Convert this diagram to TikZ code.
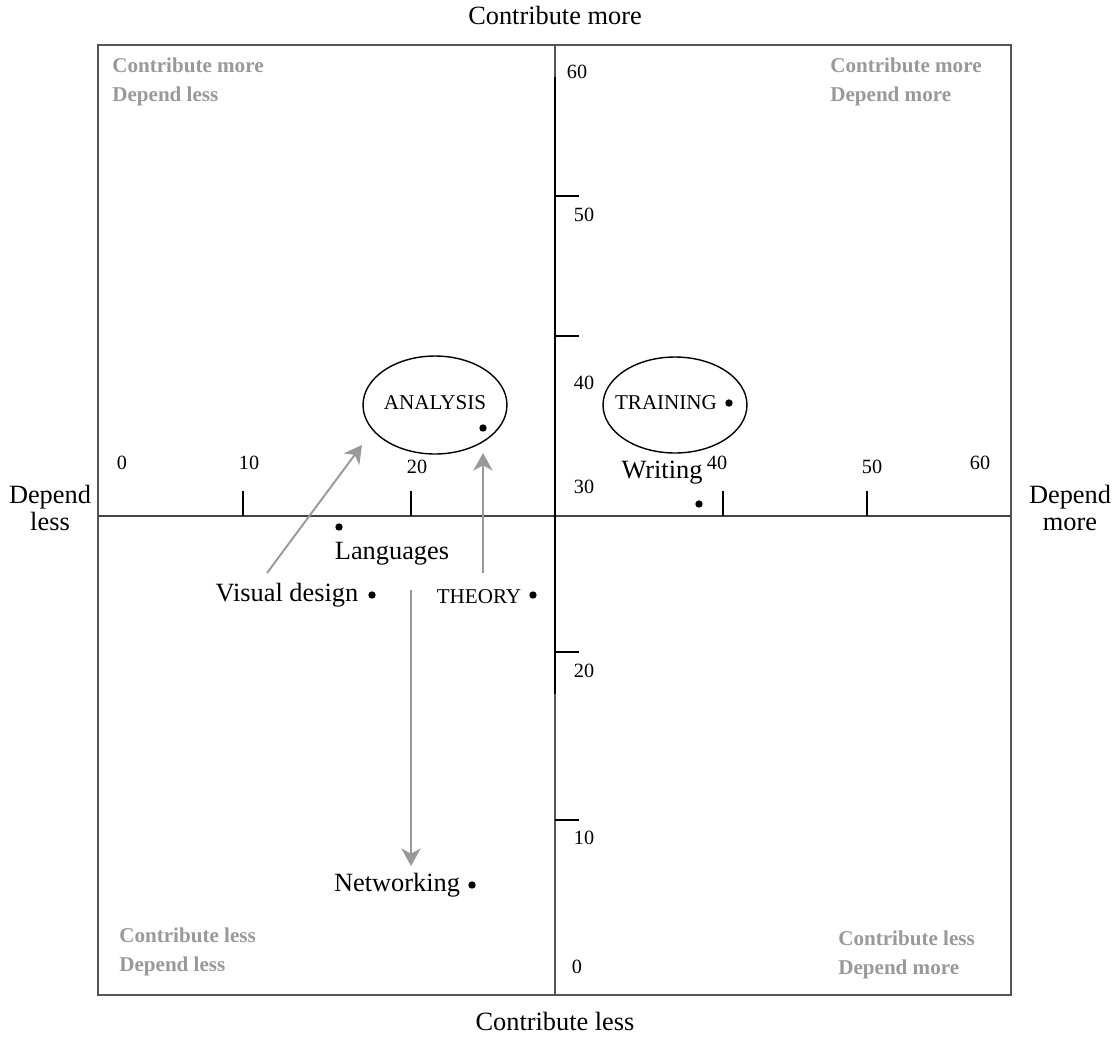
\documentclass[tikz,border=0pt]{standalone}
\usepackage{fontspec}
\setmainfont{Liberation Serif}
\usetikzlibrary{calc}
\usetikzlibrary{positioning}
\usetikzlibrary{shapes.geometric}
\usetikzlibrary{arrows.meta}
\definecolor{frameGray}{HTML}{555555}
\definecolor{axisGray}{HTML}{444444}
\definecolor{softGray}{HTML}{999999}
\tikzstyle{dotnode} = [circle, fill=black, inner sep=0pt, minimum size=4.2pt]
\tikzstyle{itemlbl} = [font=\fontsize{15}{17}\selectfont, inner sep=0pt]
\tikzstyle{caplbl} = [font=\fontsize{12}{14}\selectfont, inner sep=0pt]
\tikzstyle{numlbl} = [font=\fontsize{11.5}{13}\selectfont, inner sep=0pt]
\tikzstyle{quadlbl} = [font=\fontsize{12}{16.4}\selectfont\bfseries, text=softGray, align=left, inner sep=0pt, anchor=west]
\tikzstyle{outerlbl} = [font=\fontsize{15}{15.5}\selectfont, align=center, inner sep=0pt]
\tikzstyle{groupnode} = [draw, ellipse, line width=0.8pt, inner sep=0pt]
\tikzstyle{movearrow} = [draw=softGray, line width=1.1pt, -{Stealth[length=10pt, width=11pt, inset=3pt]}]
\tikzstyle{tickline} = [line width=1.2pt]

\begin{document}
\begin{tikzpicture}[x=0.02cm, y=-0.02cm]
    \useasboundingbox (0,0) rectangle (1120,1036);
    % frame and axes
    \draw[frameGray, line width=1pt] (98,45) rectangle (1011,995);
    \coordinate (h_left) at (98,516);
    \coordinate (h_right) at (1011,516);
    \coordinate (v_top) at (555,45);
    \coordinate (v_bot) at (555,995);
    \draw[axisGray, line width=1pt] (h_left) -- (h_right);
    \draw[frameGray, line width=1pt] (v_top) -- (v_bot);
    \draw[black, line width=1.4pt] (555,77) -- (555,694);
    \foreach \tx in {243,411,723,867}
        \draw[tickline] (\tx,491) -- (\tx,516);
    \foreach \ty in {196,336,652,820}
        \draw[tickline] (555,\ty) -- (579,\ty);
    % axis numbers
    \node[numlbl] (hx_0) at (122,463) {0};
    \node[numlbl] (hx_10) at (249,463) {10};
    \node[numlbl] (hx_20) at (417,467) {20};
    \node[numlbl] (hx_40) at (717,463) {40};
    \node[numlbl] (hx_50) at (872,467) {50};
    \node[numlbl] (hx_60) at (980,463) {60};
    \node[numlbl] (vy_60) at (577,72) {60};
    \node[numlbl] (vy_50) at (584,215) {50};
    \node[numlbl] (vy_40) at (584,383) {40};
    \node[numlbl] (vy_30) at (584,487) {30};
    \node[numlbl] (vy_20) at (584,671) {20};
    \node[numlbl] (vy_10) at (584,838) {10};
    \node[numlbl] (vy_0) at (577,967) {0};
    % outer labels
    \node[outerlbl] (top_lbl) at (555,15) {Contribute more};
    \node[outerlbl] (bot_lbl) at (555,1021) {Contribute less};
    \node[outerlbl] (left_lbl) at (50,508) {Depend\\less};
    \node[outerlbl] (right_lbl) at (1070,508) {Depend\\more};
    % quadrant labels
    \node[quadlbl] (q_tl) at (112,82) {Contribute more\\Depend less};
    \node[quadlbl] (q_tr) at (830,82) {Contribute more\\Depend more};
    \node[quadlbl] (q_bl) at (119,952) {Contribute less\\Depend less};
    \node[quadlbl] (q_br) at (838,955) {Contribute less\\Depend more};
    % groups
    \node[groupnode, minimum width=2.88cm, minimum height=1.96cm] (analysis) at (435,405) {};
    \node[caplbl] (ana_lbl) at (435,403) {ANALYSIS};
    \node[dotnode] (ana_dot) at (483,428) {};
    \node[groupnode, minimum width=2.88cm, minimum height=1.92cm] (training) at (675,405) {};
    \node[caplbl] (trn_lbl) at (666,403) {TRAINING};
    \node[dotnode] (trn_dot) at (729,403) {};
    % items
    \node[dotnode] (wrt_dot) at (699,504) {};
    \node[itemlbl] (wrt_lbl) at (662,473) {Writing};
    \node[dotnode] (lng_dot) at (339,527) {};
    \node[itemlbl] (lng_lbl) at (392,554) {Languages};
    \node[dotnode] (vis_dot) at (372,595) {};
    \node[itemlbl] (vis_lbl) at (287,595) {Visual design};
    \node[dotnode] (thy_dot) at (533,595) {};
    \node[caplbl] (thy_lbl) at (479,597) {THEORY};
    \node[dotnode] (net_dot) at (472,885) {};
    \node[itemlbl] (net_lbl) at (397,885) {Networking};
    % moves
    \coordinate (vis_tail) at (267,573);
    \coordinate (ana_tip1) at (362,445);
    \coordinate (thy_tail) at (483,573);
    \coordinate (ana_tip2) at (483,453);
    \coordinate (lng_tail) at (411,590);
    \coordinate (net_tip) at (411,866);
    \draw[movearrow] (vis_tail) -- (ana_tip1);
    \draw[movearrow] (thy_tail) -- (ana_tip2);
    \draw[movearrow] (lng_tail) -- (net_tip);
\end{tikzpicture}
\end{document}
